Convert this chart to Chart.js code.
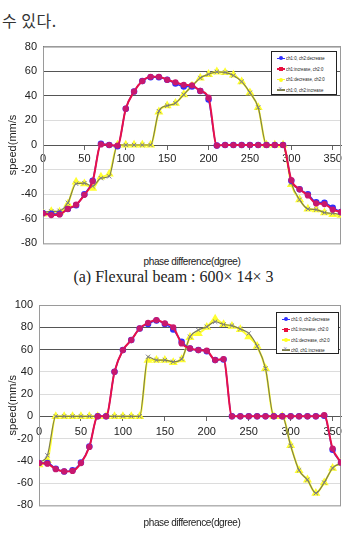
<!DOCTYPE html>
<html>
<head>
<meta charset="utf-8">
<script src="https://cdn.jsdelivr.net/npm/chart.js@4.4.0/dist/chart.umd.min.js"></script>
<style>
body { margin:0; background:#fff; width:347px; height:537px; position:relative; overflow:hidden; font-family:"Liberation Sans", Arial, sans-serif; }
.abs { position:absolute; }
#kor { left:2px; top:8px; font-size:16px; font-family:"Noto Sans CJK KR", sans-serif; color:#333; letter-spacing:0.5px; }
.caption { left:0; width:347px; text-align:center; font-family:"Liberation Serif", serif; font-size:16px; color:#222; }
.xtitle { left:100px; width:184px; text-align:center; font-family:"Liberation Sans Narrow", "Liberation Sans", sans-serif; font-size:10px; color:#222; letter-spacing:-0.4px; }
.legend { border:1px solid #222; background:#fff; box-sizing:border-box; }
.legend .row { position:absolute; left:0; height:10px; width:100%; }
.legend .sw { position:absolute; left:5px; top:4.5px; width:8px; height:1.5px; }
.legend .mk { position:absolute; left:2px; top:-1.2px; width:4px; height:4px; border-radius:50%; }
.legend .xm { position:absolute; left:1.2px; top:-4px; font-size:7px; line-height:8px; }
.legend .tx { position:absolute; left:14px; top:0; font-size:10px; line-height:10px; color:#222; white-space:nowrap;
              transform:scale(0.43, 0.62); transform-origin:0 50%; }
</style>
</head>
<body>
<div id="kor" class="abs">수 있다.</div>

<canvas id="c1" class="abs" width="347" height="222" style="left:0;top:34px"></canvas>
<div class="abs xtitle" style="top:256px">phase difference(dgree)</div>
<div class="abs caption" style="top:268px">(a) Flexural beam : 600× 14× 3</div>
<div id="lg1" class="abs legend" style="left:271px;top:51px;width:66px;height:44px"></div>

<canvas id="c2" class="abs" width="347" height="226" style="left:0;top:292px"></canvas>
<div class="abs xtitle" style="top:517px">phase difference(dgree)</div>
<div id="lg2" class="abs legend" style="left:276px;top:312px;width:63px;height:42px"></div>

<script>
// phase difference (degree)
const phase = [0, 10, 20, 30, 40, 50, 60, 70, 80, 90, 100, 110, 120, 130, 140, 150, 160, 170, 180,
               190, 200, 210, 220, 230, 240, 250, 260, 270, 280, 290, 300, 310, 320, 330, 340, 350, 360];
const xTickVals = [0, 50, 100, 150, 200, 250, 300, 350];

const seriesNames1 = ['ch1:0, ch2:decrease', 'ch1:increase, ch2:0', 'ch1:decrease, ch2:0', 'ch1:0, ch2:increase'];
const seriesNames2 = ['ch1:0, ch2:decrease', 'ch1:increase, ch2:0', 'ch1:decrease, ch2:0', 'ch0, ch1:increase'];

// (a) flexural beam
const a_ch2dec = [-55.5, -56, -56, -52, -49, -40, -29, 1, 0, -1, 29.5, 43.5, 52, 55, 55, 53, 50, 47.5, 47.5,
                  44, 37, -0.5, 0, 0, 0, 0, 0, 0, 0, 0, -29, -36, -40, -46.5, -47, -51, -54.5];
const a_ch1inc = [-55.5, -57, -56.5, -52, -48.5, -40.5, -29.5, 0.5, 0, -0.5, 29.5, 43.5, 52, 55.5, 55.5, 53, 51, 49, 48.5,
                  44, 38.5, -0.5, 0, 0, 0, 0, 0, 0, 0, 0, -28.5, -36, -41, -47.5, -48, -52.5, -54.5];
const a_ch1dec = [-56, -54, -54.5, -48, -30, -31.5, -35, -26, -23.5, 0, 0, 0, 0, 0, 27, 32, 34, 41, 48,
                  54.5, 57.5, 59.5, 59, 57, 51.5, 42.5, 30.5, 0, 0, 0, -32, -44.5, -52, -52.5, -55, -56.5, -57];
const a_ch2inc = [-54.5, -54, -53.5, -47, -31.5, -31, -33.5, -27, -25.5, 0, 0, 0, 0, 0, 27.5, 32, 34, 41, 48,
                  54.5, 57.5, 59.5, 59, 56.5, 51.5, 42.5, 30.5, 0, 0, 0, -31, -44.5, -52, -52.5, -55, -55.5, -56.5];

// (b)
const b_ch2dec = [-42, -42, -47, -49.5, -48.5, -41.5, -27, 0, 0, 40, 59.5, 68.5, 79, 83, 86, 83, 78, 67, 61,
                  59.5, 58.5, 50.5, 51, 0, 0, 0, 0, 0, 0, 0, 0, 0, 0, 0, 0.5, -30, -41.5];
const b_ch1inc = [-42, -42.5, -47.5, -49.5, -49, -42, -27.5, 0, 0, 40, 59.5, 68.5, 79, 84, 86.5, 83.5, 80, 65.5, 61,
                  59.5, 59, 50.5, 51.5, 0, 0, 0, 0, 0, 0, 0, 0, 0, 0, 0, 1, -29, -41.5];
const b_ch1dec = [-43.5, -39.5, 0, 0, 0, 0, 0, 0, 0, 0, 0, 0, 0, 50.5, 50.5, 50.5, 48.5, 51, 71,
                  74.5, 80, 87.5, 82.5, 81, 78, 71.5, 63, 43, 0, 0, -26, -48.5, -57, -69, -59.5, -46.5, -42];
const b_ch2inc = [-41.5, -35, 0, 0, 0, 0, 0, 0, 0, 0, 0, 0, 0, 53.5, 50.5, 50.5, 49, 51.5, 71.5,
                  77.5, 80.5, 85, 82.5, 81.5, 78.5, 74.5, 63, 43, 0, 0, -26.5, -48.5, -57, -69, -59.5, -46.5, -42];

const yRange1 = [-80, 80];
const yRange2 = [-80, 100];

const colors = ['#2f2fff', '#e8103c', '#ffff20', '#8c8cb0'];
const lineColors = ['#2f2fff', '#e8104a', '#ffff30', '#80804a'];

Chart.defaults.font.family = '"Liberation Sans", Arial, sans-serif';
Chart.defaults.color = '#222';

const frame = {
    id: 'frame',
    beforeDatasetsDraw(chart) {
        const a = chart.chartArea;
        const ctx = chart.ctx;
        ctx.save();
        ctx.strokeStyle = '#9a9a9a';
        ctx.lineWidth = 1;
        ctx.strokeRect(a.left + 0.5, a.top + 0.5, a.right - a.left - 1, a.bottom - a.top);
        ctx.restore();
    }
};

function pts(vals) {
    return phase.map((p, i) => ({ x: p, y: vals[i] }));
}

function makeChart(id, names, data, range, axisW, pad, darkLines, labelPad) {
    const ds = [
        { label: names[0], data: pts(data[0]), borderColor: lineColors[0], backgroundColor: colors[0],
          borderWidth: 1.5, pointStyle: 'circle', pointRadius: 2.5, order: 2 },
        { label: names[1], data: pts(data[1]), borderColor: lineColors[1], backgroundColor: '#c8186e',
          pointBorderColor: '#c8186e', borderWidth: 2, pointStyle: 'circle', pointRadius: 2.1, order: 1 },
        { label: names[2], data: pts(data[2]), borderColor: lineColors[2], backgroundColor: colors[2],
          borderWidth: 2, pointStyle: 'triangle', pointRadius: 3.2, order: 4 },
        { label: names[3], data: pts(data[3]), borderColor: lineColors[3], backgroundColor: colors[3],
          pointBorderColor: '#7a7a9a', borderWidth: 1.2, pointStyle: 'crossRot', pointRadius: 3, pointBorderWidth: 1, order: 3 }
    ];
    return new Chart(document.getElementById(id), {
        type: 'line',
        data: { datasets: ds },
        options: {
            responsive: false,
            animation: false,
            layout: { padding: pad },
            plugins: { legend: { display: false }, tooltip: { enabled: false } },
            elements: { line: { cubicInterpolationMode: 'monotone' } },
            scales: {
                x: {
                    type: 'linear', min: 0, max: 360, position: { y: 0 },
                    afterBuildTicks: s => { s.ticks = xTickVals.map(v => ({ value: v })); },
                    ticks: { font: { size: 11 }, padding: labelPad, maxRotation: 0, autoSkip: false, color: '#222' },
                    grid: { display: true, drawOnChartArea: false, tickLength: 4, color: '#666' },
                    border: { color: '#555', width: 1 }
                },
                y: {
                    min: range[0], max: range[1],
                    afterFit: s => { s.width = axisW; },
                    ticks: { stepSize: 20, font: { size: 11 }, padding: 6, color: '#222' },
                    grid: {
                        drawTicks: false,
                        color: c => darkLines.includes(c.tick.value) ? '#555' : (c.tick.value === range[1] ? '#9a9a9a' : '#dcdcdc')
                    },
                    border: { color: '#666' },
                    title: { display: true, text: 'speed(mm/s', font: { size: 11 }, color: '#222', padding: { top: 6, bottom: 0 } }
                }
            }
        },
        plugins: [frame]
    });
}

function buildLegend(id, names, rowH) {
    const box = document.getElementById(id);
    names.forEach((n, i) => {
        const row = document.createElement('div');
        row.className = 'row';
        row.style.top = (1 + i * rowH) + 'px';
        let mark;
        if (i === 3) {
            mark = `<span class="xm" style="color:${colors[3]}">×</span>`;
        } else {
            mark = `<span class="mk" style="background:${i === 1 ? '#e8103c' : colors[i]};border-radius:${i === 1 ? '0' : '50%'}"></span>`;
        }
        row.innerHTML = `<span class="sw" style="background:${lineColors[i]}">${mark}</span><span class="tx">${n}</span>`;
        box.appendChild(row);
    });
}

makeChart('c1', seriesNames1, [a_ch2dec, a_ch1inc, a_ch1dec, a_ch2inc], yRange1, 43,
          { top: 10, bottom: 12, right: 5, left: 0 }, [60, 40], 3);
makeChart('c2', seriesNames2, [b_ch2dec, b_ch1inc, b_ch1dec, b_ch2inc], yRange2, 39,
          { top: 13, bottom: 12, right: 5, left: 0 }, [80, 60], 5);
buildLegend('lg1', seriesNames1, 10.6);
buildLegend('lg2', seriesNames2, 10.3);
</script>
</body>
</html>
